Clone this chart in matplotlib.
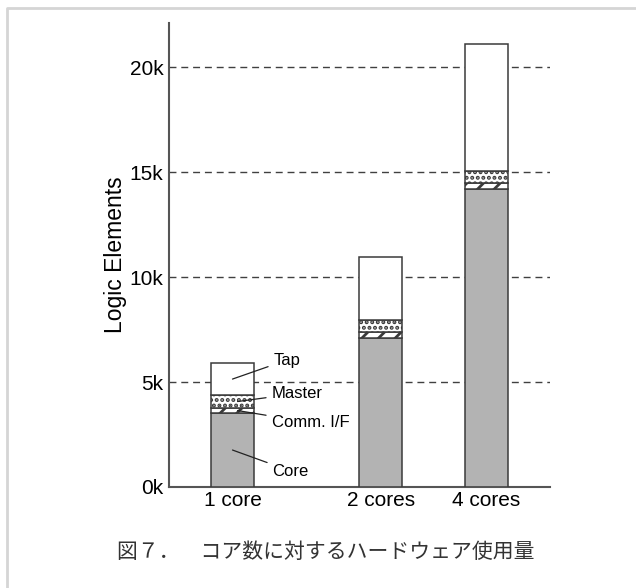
import matplotlib.pyplot as plt
from matplotlib.lines import Line2D
from matplotlib.ticker import FuncFormatter

plt.rcParams['font.family'] = ['Liberation Sans', 'DejaVu Sans']

# --- dane ---
categories = ['1 core', '2 cores', '4 cores']
positions = [1.5, 5.0, 7.5]
core = [3520, 7090, 14190]
comm_if = [240, 290, 290]
master = [620, 570, 570]
tap = [1520, 3000, 6050]
seg_names = ['Core', 'Comm. I/F', 'Master', 'Tap']
caption = '図７．　コア数に対するハードウェア使用量'

fig = plt.figure(figsize=(6.36, 5.88), dpi=100)
ax = fig.add_axes([0.2657, 0.1718, 0.5991, 0.7891])

edge = '#3a3a3a'
plt.rcParams['hatch.linewidth'] = 2.0
plt.rcParams['hatch.color'] = '#3a3a3a'

ax.bar(positions, core, width=1.0, color='#b3b3b3', edgecolor=edge, linewidth=1.1, zorder=3)
bottom2 = [c for c in core]
ax.bar(positions, comm_if, width=1.0, bottom=bottom2, color='white', edgecolor=edge,
       linewidth=1.1, hatch='//', zorder=3)
bottom3 = [c + i for c, i in zip(core, comm_if)]
ax.bar(positions, master, width=1.0, bottom=bottom3, color='white', edgecolor=edge,
       linewidth=1.1, hatch='...', zorder=3)
bottom4 = [c + i + m for c, i, m in zip(core, comm_if, master)]
ax.bar(positions, tap, width=1.0, bottom=bottom4, color='white', edgecolor=edge,
       linewidth=1.1, zorder=3)

ax.set_xlim(0, 9)
ax.set_ylim(0, 22100)
ax.set_yticks([0, 5000, 10000, 15000, 20000])
ax.yaxis.set_major_formatter(FuncFormatter(lambda v, p: f'{v/1000:.0f}k'))
ax.set_xticks(positions)
ax.set_xticklabels(categories)
ax.tick_params(length=0, labelsize=15, pad=4)
ax.tick_params(axis='x', pad=3)
ax.grid(axis='y', linestyle=(0, (5, 3.5)), color='#404040', linewidth=1.0, zorder=1)
ax.set_ylabel('Logic Elements', fontsize=16.5, labelpad=2)

for s in ['top', 'right']:
    ax.spines[s].set_visible(False)
for s in ['left', 'bottom']:
    ax.spines[s].set_color('#555555')
    ax.spines[s].set_linewidth(1.5)

# opisy segmentow przy pierwszym slupku
x0 = positions[0]
mids = [core[0] / 2,
        core[0] + comm_if[0] / 2,
        core[0] + comm_if[0] + master[0] / 2,
        bottom4[0] + tap[0] / 2]
dx_data = [0.0, 0.12, 0.12, 0.0]
offsets = [(40, -21), (34, -12), (34, 8), (41, 19)]
for name, m, ddx, off in zip(seg_names, mids, dx_data, offsets):
    ax.annotate(name, xy=(x0 + ddx, m), xytext=off, textcoords='offset pixels',
                ha='left', va='center', fontsize=12, zorder=5,
                arrowprops=dict(arrowstyle='-', color='#222222', lw=0.9,
                                shrinkA=2, shrinkB=0))

# podpis rysunku
fig.text(0.512, 0.062, caption, ha='center', va='center', fontsize=15,
         color='#333333', family=['Noto Sans CJK JP', 'DejaVu Sans'])

# ramka (tylko gora i lewa strona widoczne)
fx, fy = 7 / 636, 1 - 8 / 588
fig.lines.append(Line2D([fx, fx, 1.0], [0.0, fy, fy], transform=fig.transFigure,
                        color='#d5d5d5', linewidth=2))

fig.savefig('out.png', dpi=100)
